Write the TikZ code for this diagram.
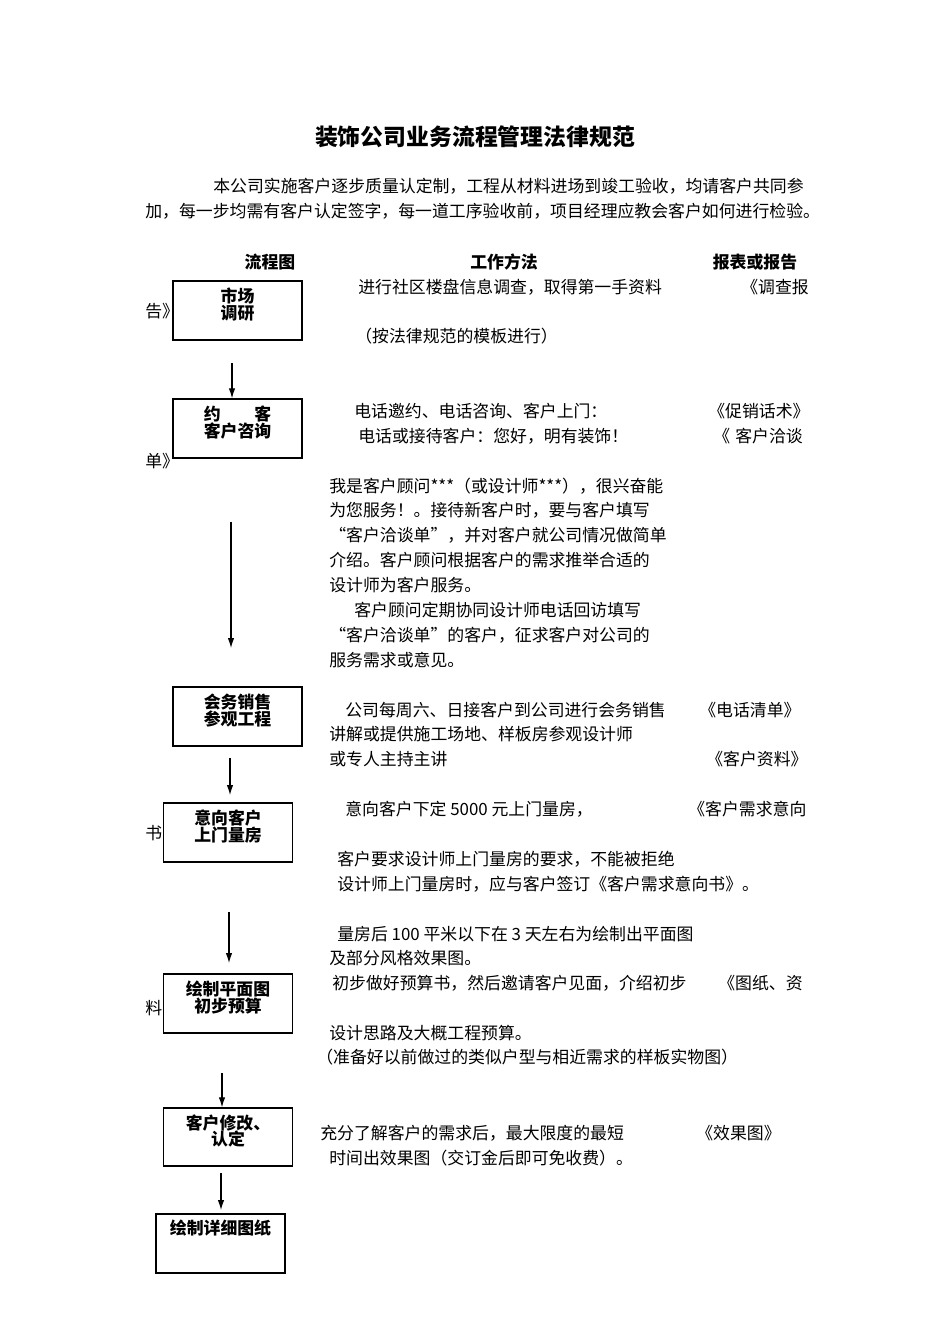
\documentclass[tikz,border=0pt]{standalone}
\usepackage{fontspec}
\setmainfont{Noto Sans CJK SC}
\usetikzlibrary{arrows.meta}

\tikzset{
  body/.style={anchor=west,inner sep=0pt,font=\fontsize{9.6}{11}\selectfont,text height=0.85em,text depth=0.12em},
  head/.style={body,anchor=center,font=\bfseries\fontsize{9.6}{11}\selectfont},
  stepbox/.style={draw,line width=0.8pt,minimum width=2.58cm,minimum height=1.18cm,inner sep=0pt},
  steplbl/.style={align=center,inner sep=0pt,font=\bfseries\fontsize{9.6}{9.4}\selectfont},
  flow/.style={-{Latex[length=2mm,width=1.3mm]},line width=0.6pt}
}

\begin{document}
\begin{tikzpicture}[x=0.02cm,y=-0.02cm]
  \useasboundingbox (0,0) rectangle (950,1344);
  \node[inner sep=0pt,font=\bfseries\fontsize{13}{15}\selectfont] (title) at (475,137) {装饰公司业务流程管理法律规范};
  \node[body] (introa) at (213,186) {本公司实施客户逐步质量认定制，工程从材料进场到竣工验收，均请客户共同参};
  \node[body] (introb) at (145,211) {加，每一步均需有客户认定签字，每一道工序验收前，项目经理应教会客户如何进行检验。};

  \node[head] (hflow) at (270,262) {流程图};
  \node[head] (hwork) at (504,262) {工作方法};
  \node[head] (hreport) at (755,262) {报表或报告};

  % flow boxes
  \node[stepbox,label={[steplbl,yshift=0.12cm]center:市场\\调研}] (survey) at (237.5,310.5) {};
  \node[stepbox,label={[steplbl,yshift=0.12cm]center:约\hspace{2em}客\\客户咨询}] (invite) at (237.5,428.5) {};
  \node[stepbox,label={[steplbl,yshift=0.12cm]center:会务销售\\参观工程}] (salon) at (237.5,716.5) {};
  \node[stepbox,label={[steplbl,yshift=0.12cm]center:意向客户\\上门量房}] (measure) at (228,832.5) {};
  \node[stepbox,label={[steplbl,yshift=0.12cm]center:绘制平面图\\初步预算}] (plan) at (228,1003.5) {};
  \node[stepbox,minimum height=1.16cm,label={[steplbl,yshift=0.12cm]center:客户修改、\\认定}] (revise) at (228,1137) {};
  \node[stepbox,label={[steplbl,yshift=0.31cm]center:绘制详细图纸}] (detail) at (220.5,1243.5) {};

  \coordinate (fa) at (232,363);
  \coordinate (fb) at (231,522);  \coordinate (fbe) at (231,648);
  \coordinate (fc) at (230,758);  \coordinate (fce) at (230,795);
  \coordinate (fd) at (229,912);  \coordinate (fde) at (229,963);
  \coordinate (fe) at (222,1073);
  \coordinate (ff) at (221,1173); \coordinate (ffe) at (221,1210);
  \draw[flow] (fa) -- (fa |- invite.north);
  \draw[flow] (fb) -- (fbe);
  \draw[flow] (fc) -- (fce);
  \draw[flow] (fd) -- (fde);
  \draw[flow] (fe) -- (fe |- revise.north);
  \draw[flow] (ff) -- (ffe);

  % work method
  \node[body] (w1) at (358,287) {进行社区楼盘信息调查，取得第一手资料};
  \node[body] (w2) at (355,336) {（按法律规范的模板进行）};
  \node[body] (w3) at (354,411) {电话邀约、电话咨询、客户上门：};
  \node[body] (w4) at (358,436) {电话或接待客户：您好，明有装饰！};
  \node[body] (w5) at (329,486) {我是客户顾问***（或设计师***），很兴奋能};
  \node[body] (w6) at (329,510) {为您服务！。接待新客户时，要与客户填写};
  \node[body] (w7) at (329,535) {“客户洽谈单”，并对客户就公司情况做简单};
  \node[body] (w8) at (329,560) {介绍。客户顾问根据客户的需求推举合适的};
  \node[body] (w9) at (329,585) {设计师为客户服务。};
  \node[body] (w10) at (354,610) {客户顾问定期协同设计师电话回访填写};
  \node[body] (w11) at (329,635) {“客户洽谈单”的客户，征求客户对公司的};
  \node[body] (w12) at (329,660) {服务需求或意见。};
  \node[body] (w13) at (345,710) {公司每周六、日接客户到公司进行会务销售};
  \node[body] (w14) at (329,734) {讲解或提供施工场地、样板房参观设计师};
  \node[body] (w15) at (329,759) {或专人主持主讲};
  \node[body] (w16) at (345,809) {意向客户下定 5000 元上门量房，};
  \node[body] (w17) at (337,859) {客户要求设计师上门量房的要求，不能被拒绝};
  \node[body] (w18) at (337,884) {设计师上门量房时，应与客户签订《客户需求意向书》。};
  \node[body] (w19) at (337,934) {量房后 100 平米以下在 3 天左右为绘制出平面图};
  \node[body] (w20) at (329,958) {及部分风格效果图。};
  \node[body] (w21) at (332,983) {初步做好预算书，然后邀请客户见面，介绍初步};
  \node[body] (w22) at (329,1033) {设计思路及大概工程预算。};
  \node[body] (w23) at (316,1057) {（准备好以前做过的类似户型与相近需求的样板实物图）};
  \node[body] (w24) at (320,1133) {充分了解客户的需求后，最大限度的最短};
  \node[body] (w25) at (329,1158) {时间出效果图（交订金后即可免收费）。};

  % reports
  \node[body] (r1) at (741,287) {《调查报};
  \node[body] (r1b) at (145,311) {告》};
  \node[body] (r2) at (708,411) {《促销话术》};
  \node[body] (r3) at (713,436) {《\hspace{0.3em}客户洽谈};
  \node[body] (r3b) at (145,461) {单》};
  \node[body] (r4) at (699,710) {《电话清单》};
  \node[body] (r5) at (706,759) {《客户资料》};
  \node[body] (r6) at (688,809) {《客户需求意向};
  \node[body] (r6b) at (145,833) {书};
  \node[body] (r7) at (718,983) {《图纸、资};
  \node[body] (r7b) at (145,1008) {料};
  \node[body] (r8) at (696,1133) {《效果图》};
\end{tikzpicture}
\end{document}
